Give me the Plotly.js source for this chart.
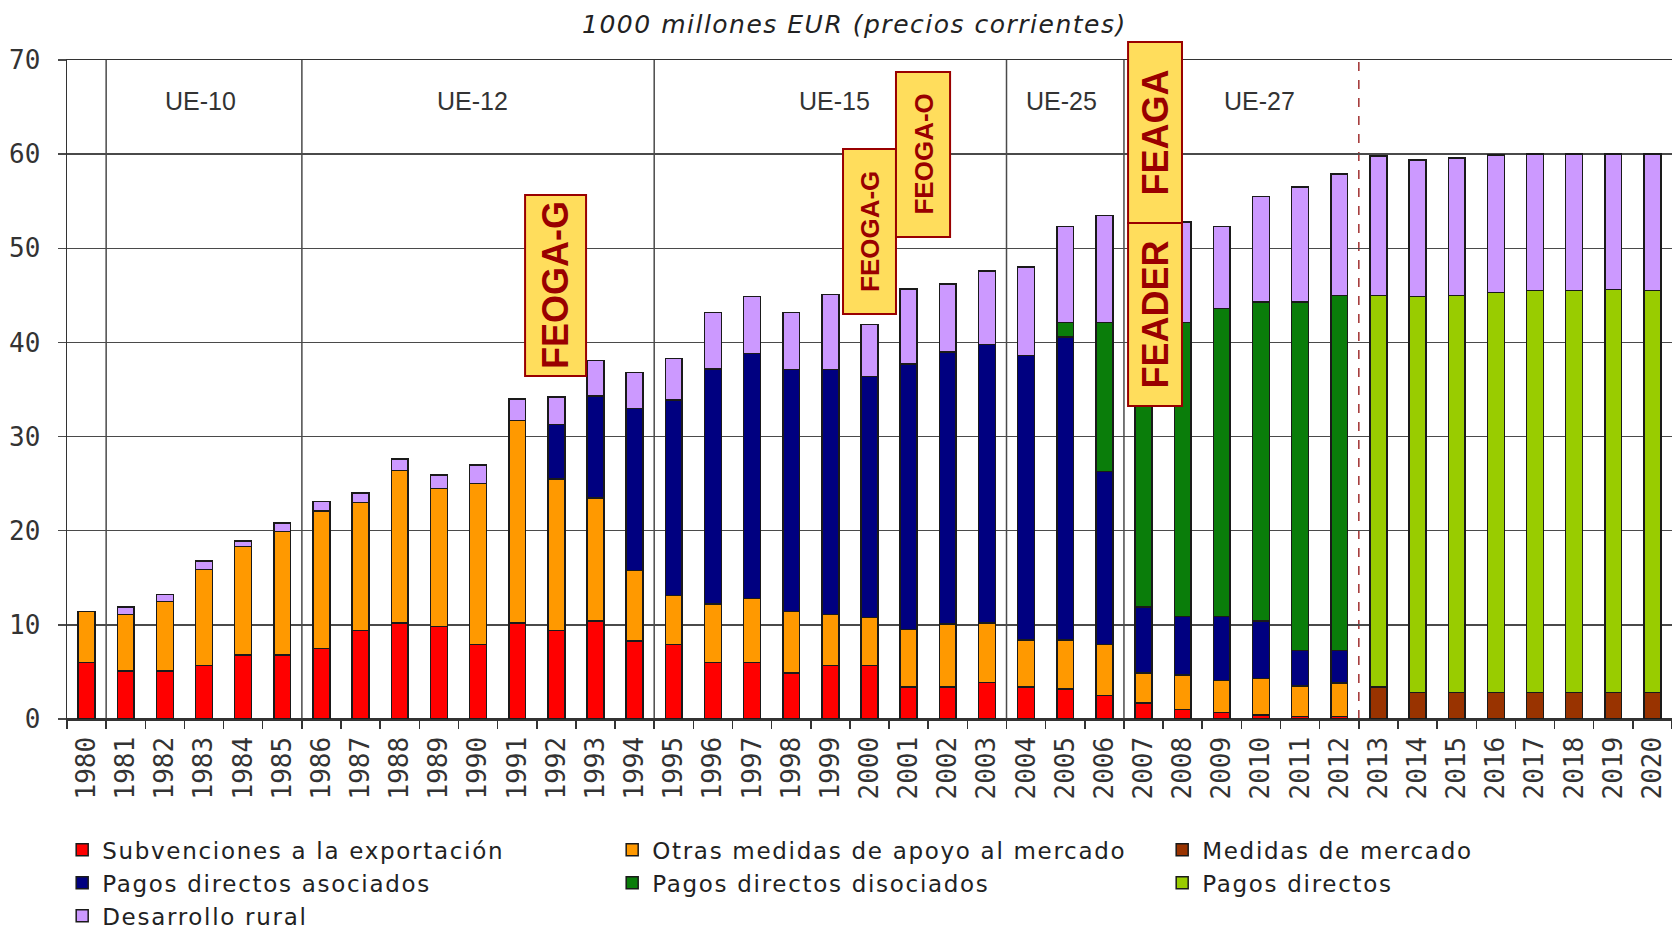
<!DOCTYPE html>
<html>
<head>
<meta charset="utf-8">
<script src="https://cdn.plot.ly/plotly-3.0.1.min.js"></script>
<style>
  html, body { margin: 0; padding: 0; background: #ffffff; }
  #chart { width: 1672px; height: 929px; }
  .legendtext { letter-spacing: 1.7px; }
  .gtitle { letter-spacing: 1.5px; }
</style>
</head>
<body>
<div id="chart"></div>
<script>
const years = ['1980','1981','1982','1983','1984','1985','1986','1987','1988','1989',
  '1990','1991','1992','1993','1994','1995','1996','1997','1998','1999',
  '2000','2001','2002','2003','2004','2005','2006','2007','2008','2009',
  '2010','2011','2012','2013','2014','2015','2016','2017','2018','2019','2020'];

const subvenciones = [6.0,5.1,5.1,5.7,6.8,6.8,7.5,9.4,10.2,9.8,
  7.9,10.2,9.4,10.4,8.3,7.9,6.0,6.0,4.9,5.7,
  5.7,3.4,3.4,3.9,3.4,3.2,2.5,1.7,1.0,0.7,
  0.4,0.25,0.25,null,null,null,null,null,null,null,null];

const otrasMedidas = [5.4,6.0,7.4,10.2,11.5,13.1,14.6,13.6,16.2,14.7,
  17.1,21.5,16.1,13.1,7.5,5.2,6.2,6.8,6.5,5.4,
  5.1,6.1,6.7,6.3,5.0,5.2,5.4,3.2,3.7,3.4,
  3.9,3.25,3.55,null,null,null,null,null,null,null,null];

const medidasMercado = [null,null,null,null,null,null,null,null,null,null,
  null,null,null,null,null,null,null,null,null,null,
  null,null,null,null,null,null,null,null,null,null,
  null,null,null,3.4,2.8,2.8,2.8,2.8,2.8,2.8,2.8];

const pagosAsociados = [null,null,null,null,null,null,null,null,null,null,
  null,null,5.8,10.8,17.2,20.8,25.0,26.0,25.7,26.0,
  25.6,28.2,28.9,29.6,30.2,32.2,18.4,7.0,6.2,6.8,
  6.1,3.8,3.5,null,null,null,null,null,null,null,null];

const pagosDisociados = [null,null,null,null,null,null,null,null,null,null,
  null,null,null,null,null,null,null,null,null,null,
  null,null,null,null,null,1.5,15.8,30.6,31.2,32.7,
  33.9,37.0,37.7,null,null,null,null,null,null,null,null];

const pagosDirectos = [null,null,null,null,null,null,null,null,null,null,
  null,null,null,null,null,null,null,null,null,null,
  null,null,null,null,null,null,null,null,null,null,
  null,null,null,41.6,42.1,42.2,42.5,42.7,42.7,42.8,42.7];

const desarrolloRural = [null,0.8,0.7,0.9,0.6,0.9,1.0,1.0,1.2,1.4,
  2.0,2.3,2.9,3.8,3.8,4.4,6.0,6.1,6.1,8.0,
  5.5,8.0,7.2,7.8,9.4,10.2,11.4,10.3,10.7,8.7,
  11.2,12.2,12.9,14.8,14.5,14.6,14.6,14.5,14.5,14.4,14.5];

const seriesNames = ['Subvenciones a la exportación','Otras medidas de apoyo al mercado','Medidas de mercado',
  'Pagos directos asociados','Pagos directos disociados','Pagos directos','Desarrollo rural'];
const seriesValues = [subvenciones, otrasMedidas, medidasMercado, pagosAsociados, pagosDisociados, pagosDirectos, desarrolloRural];
const seriesColors = ['#ff0000','#ff9900','#993300','#000080','#0a7d0a','#99cc00','#cc99ff'];

const eraLabels = ['UE-10','UE-12','UE-15','UE-25','UE-27'];
const eraLabelX = [2.9, 9.85, 19.1, 24.9, 29.95];
const eraBoundaries = [0.5, 5.5, 14.5, 23.5, 26.5];
const forecastBoundary = 32.5;

const traces = seriesNames.map((name, i) => ({
  type: 'bar',
  name: name,
  x: years,
  y: seriesValues[i],
  marker: { color: seriesColors[i], line: { color: '#1a1a1a', width: 1.5 } },
  hoverinfo: 'x+y+name'
}));

const shapes = [];
eraBoundaries.forEach(b => shapes.push({
  type: 'line', xref: 'x', yref: 'y', x0: b, x1: b, y0: 0, y1: 70,
  line: { color: '#4a4a4a', width: 1.5 }, layer: 'below'
}));
shapes.push({
  type: 'line', xref: 'x', yref: 'y', x0: forecastBoundary, x1: forecastBoundary, y0: 0, y1: 70,
  line: { color: '#a03030', width: 1.5, dash: 'dash' }, layer: 'below'
});

// Fund label boxes (paper coordinates)
const boxes = [
  { t: 'FEOGA-G', x0: 0.2854, x1: 0.3234, y0: 0.5205, y1: 0.7951, s: 36 },
  { t: 'FEOGA-G', x0: 0.4835, x1: 0.5165, y0: 0.6146, y1: 0.8649, s: 26 },
  { t: 'FEOGA-O', x0: 0.5165, x1: 0.5502, y0: 0.7314, y1: 0.9818, s: 26 },
  { t: 'FEAGA',   x0: 0.6611, x1: 0.6947, y0: 0.7527, y1: 1.0273, s: 36 },
  { t: 'FEADER',  x0: 0.6611, x1: 0.6947, y0: 0.4750, y1: 0.7527, s: 36 }
];
const annotations = [];
boxes.forEach(b => {
  shapes.push({
    type: 'rect', xref: 'paper', yref: 'paper', x0: b.x0, x1: b.x1, y0: b.y0, y1: b.y1,
    fillcolor: '#ffdd5c', line: { color: '#990000', width: 2 }, layer: 'above'
  });
  annotations.push({
    xref: 'paper', yref: 'paper', x: (b.x0 + b.x1) / 2, y: (b.y0 + b.y1) / 2,
    text: '<b>' + b.t + '</b>', showarrow: false, textangle: -90,
    xanchor: 'center', yanchor: 'middle',
    font: { family: 'Liberation Sans, Arial, sans-serif', size: b.s, color: '#990000' }
  });
});
eraLabels.forEach((lab, i) => annotations.push({
  xref: 'x', yref: 'y', x: eraLabelX[i], y: 65.6, text: lab, showarrow: false,
  xanchor: 'center', yanchor: 'middle',
  font: { family: 'Liberation Sans, Arial, sans-serif', size: 25, color: '#333333' }
}));

const layout = {
  width: 1672, height: 929,
  margin: { l: 67, r: 0, t: 60, b: 210, pad: 0, autoexpand: false },
  paper_bgcolor: '#ffffff', plot_bgcolor: '#ffffff',
  barmode: 'stack', bargap: 0.57,
  title: {
    text: '1000 millones EUR (precios corrientes)',
    xref: 'container', yref: 'container', x: 0.511, y: 0.9736,
    xanchor: 'center', yanchor: 'middle',
    font: { family: 'DejaVu Sans, sans-serif', size: 25, color: '#222222', style: 'italic' }
  },
  xaxis: {
    type: 'category', range: [-0.5, 40.5], fixedrange: true, automargin: false,
    showgrid: false, showline: true, linecolor: '#333333', linewidth: 1.5, mirror: true,
    ticks: 'outside', tickson: 'boundaries', ticklen: 8, tickcolor: '#333333', tickwidth: 1.5,
    tickangle: -90, ticklabelstandoff: 6,
    tickfont: { family: 'DejaVu Sans Mono, monospace', size: 26, color: '#333333' }
  },
  yaxis: {
    range: [0, 70], dtick: 10, tick0: 0, fixedrange: true, automargin: false,
    showgrid: true, gridcolor: '#4a4a4a', gridwidth: 1.5,
    zeroline: true, zerolinecolor: '#333333', zerolinewidth: 1.5,
    showline: true, linecolor: '#333333', linewidth: 1.5,
    ticks: 'outside', ticklen: 8, tickcolor: '#4a4a4a', tickwidth: 1.5, ticklabelstandoff: 12,
    tickfont: { family: 'DejaVu Sans Mono, monospace', size: 26, color: '#333333' }
  },
  legend: {
    orientation: 'h', x: -0.003, xanchor: 'left', y: -0.166, yanchor: 'top',
    entrywidth: 505, entrywidthmode: 'pixels', traceorder: 'normal',
    bgcolor: 'rgba(0,0,0,0)',
    font: { family: 'DejaVu Sans, sans-serif', size: 23, color: '#222222' }
  },
  shapes: shapes,
  annotations: annotations,
  showlegend: true
};

Plotly.newPlot('chart', traces, layout, { displayModeBar: false, staticPlot: true });
</script>
</body>
</html>
